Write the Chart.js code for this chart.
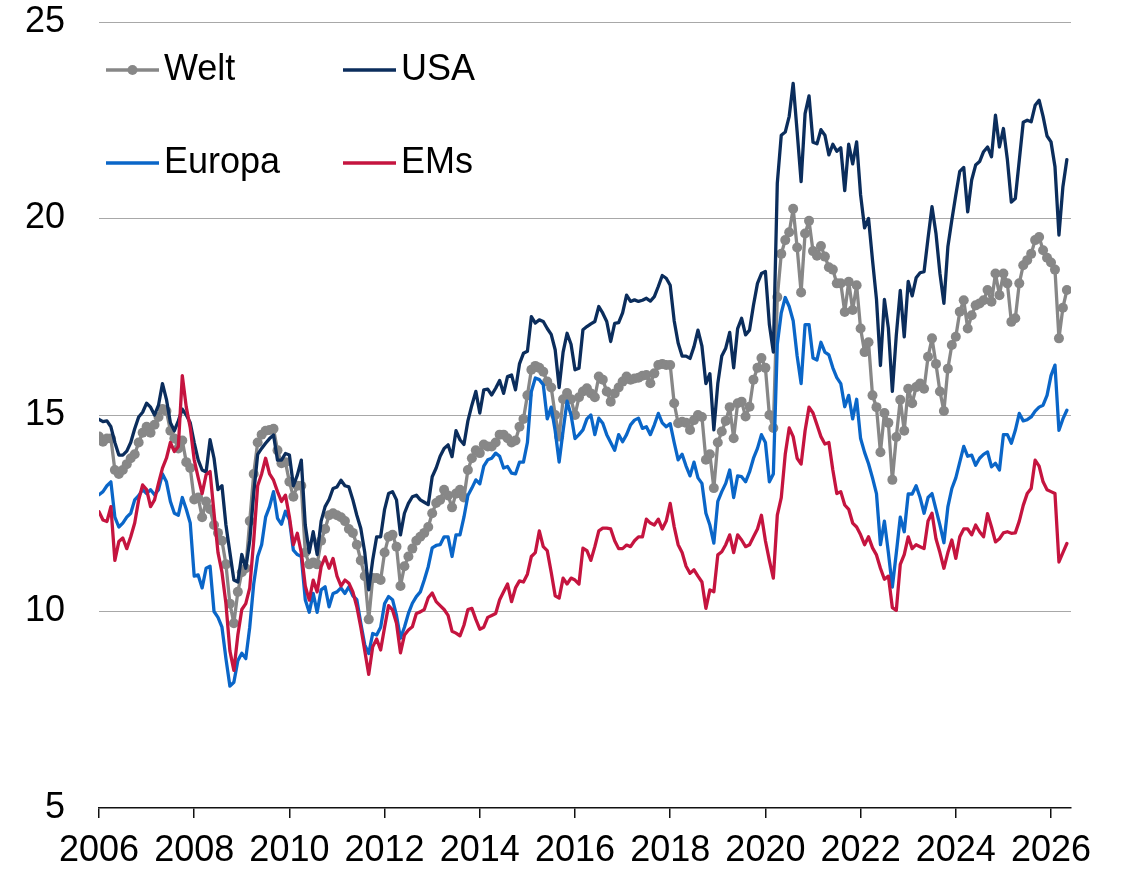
<!DOCTYPE html>
<html>
<head>
<meta charset="utf-8">
<script src="https://cdn.jsdelivr.net/npm/chart.js@4/dist/chart.umd.min.js"></script>
<style>
html,body{margin:0;padding:0;background:#fff;}
#wrap{width:1121px;height:869px;position:relative;}
</style>
</head>
<body>
<div id="wrap"><canvas id="c" width="1121" height="869"></canvas></div>
<script>
// ---- Data (monthly, starting January 2006) ----
const startYear = 2006;
const seriesNames = ['Welt', 'USA', 'Europa', 'EMs'];

const welt = [
  14.45,14.32,14.4,14.4,13.6,13.5,13.6,13.75,13.9,14.0,14.3,14.55,
  14.7,14.55,14.75,14.95,15.15,15.1,14.6,14.4,14.15,14.35,13.8,13.65,
  12.85,12.9,12.4,12.8,12.6,12.2,12.0,11.8,11.2,10.2,9.7,10.5,
  11.0,11.1,12.3,13.5,14.3,14.5,14.6,14.62,14.65,14.1,13.77,13.8,
  13.3,12.92,13.2,13.2,11.5,11.2,11.25,11.2,11.8,12.1,12.45,12.5,
  12.45,12.4,12.3,12.1,12.0,11.7,11.3,10.9,9.8,10.85,10.85,10.8,
  11.5,11.9,11.95,11.65,10.65,11.15,11.4,11.6,11.8,11.9,12.0,12.15,
  12.5,12.76,12.84,13.1,12.95,12.65,13.0,13.1,12.9,13.6,13.9,14.1,
  14.03,14.25,14.2,14.2,14.3,14.5,14.5,14.41,14.3,14.35,14.7,14.9,
  15.5,16.15,16.25,16.2,16.1,15.85,15.7,15.0,14.45,15.4,15.56,15.4,
  15.0,15.45,15.6,15.68,15.55,15.45,15.98,15.9,15.6,15.34,15.55,15.7,
  15.85,15.98,15.9,15.93,15.95,16.0,16.02,15.81,16.06,16.27,16.3,16.27,
  16.27,15.3,14.79,14.83,14.8,14.62,14.87,15.0,14.95,13.86,14.0,13.14,
  14.3,14.58,14.85,15.2,14.41,15.3,15.34,14.96,15.21,15.9,16.2,16.45,
  16.2,15.0,14.67,18.0,19.1,19.45,19.65,20.25,19.26,18.12,19.62,19.94,
  19.17,19.05,19.3,19.03,18.76,18.7,18.35,18.35,17.62,18.39,17.67,18.3,
  17.2,16.6,16.85,15.5,15.2,14.05,15.05,14.8,13.35,14.44,15.39,14.6,
  15.67,15.3,15.71,15.8,15.67,16.48,16.95,16.3,15.6,15.1,16.18,16.78,
  16.99,17.63,17.92,17.2,17.54,17.79,17.84,17.92,18.18,17.88,18.6,18.05,
  18.6,18.35,17.37,17.46,18.35,18.81,18.94,19.1,19.45,19.53,19.19,19.0,
  18.88,18.7,16.95,17.73,18.18
];

const usa = [
  14.89,14.83,14.85,14.7,14.3,13.98,13.98,14.08,14.3,14.65,14.95,15.07,
  15.3,15.2,15.0,15.25,15.8,15.4,14.8,14.6,14.85,15.15,15.0,14.8,
  14.3,13.86,13.6,13.55,14.37,13.9,13.1,13.2,12.2,11.5,10.8,10.75,
  11.45,11.1,11.8,13.0,14.0,14.15,14.28,14.4,14.49,13.85,13.85,14.02,
  13.98,13.2,13.47,13.85,12.2,11.5,12.03,11.45,12.3,12.67,12.85,13.13,
  13.17,13.34,13.2,13.17,12.84,12.45,12.11,11.5,10.55,11.31,11.9,11.9,
  12.6,13.0,13.05,12.84,11.95,12.5,12.75,12.92,12.96,12.84,12.78,12.72,
  13.43,13.65,13.95,14.15,14.24,13.94,14.6,14.37,14.25,14.85,15.25,15.6,
  15.05,15.64,15.66,15.51,15.68,15.88,15.55,15.98,16.02,15.64,16.3,16.57,
  16.62,17.5,17.34,17.42,17.38,17.2,17.05,16.66,15.7,16.6,17.08,16.8,
  16.15,16.19,17.17,17.25,17.32,17.38,17.76,17.59,17.38,16.87,17.33,17.35,
  17.6,18.05,17.89,17.93,17.89,17.92,17.97,17.9,18.01,18.27,18.55,18.48,
  18.3,17.4,16.83,16.5,16.5,16.44,16.74,17.16,16.75,15.8,16.05,14.62,
  15.8,16.5,16.7,17.1,16.2,17.2,17.46,17.04,17.16,17.8,18.35,18.6,
  18.65,17.3,16.6,20.9,22.12,22.2,22.6,23.44,22.21,20.94,22.67,23.12,
  21.94,21.9,22.26,22.12,21.62,21.89,21.71,21.8,20.71,21.89,21.39,21.95,
  20.6,19.76,20.0,18.94,17.95,16.26,17.94,17.21,15.6,17.03,18.17,16.99,
  18.4,18.03,18.49,18.62,18.65,19.5,20.3,19.62,18.6,17.84,19.28,19.96,
  20.6,21.2,21.3,20.17,20.98,21.36,21.45,21.7,21.82,21.57,22.63,21.82,
  22.29,21.5,20.42,20.51,21.48,22.45,22.5,22.46,22.88,23.01,22.6,22.1,
  21.95,21.32,19.58,20.81,21.5
];

const europa = [
  12.97,13.05,13.2,13.3,12.4,12.15,12.25,12.4,12.5,12.84,12.95,13.1,
  13.0,13.1,12.97,13.1,13.5,13.3,12.8,12.5,12.45,12.9,12.6,12.25,
  10.9,10.93,10.6,11.1,11.15,10.0,9.85,9.6,8.8,8.1,8.2,8.75,
  8.94,8.8,9.6,10.7,11.4,11.7,12.4,12.67,13.05,12.37,12.22,12.55,
  12.33,11.56,11.45,11.4,10.3,9.98,10.46,9.98,10.55,10.63,10.12,10.46,
  10.5,10.6,10.46,10.63,10.4,10.3,9.7,9.15,8.93,9.44,9.4,9.6,
  10.2,10.38,10.3,9.9,9.32,9.6,9.95,10.21,10.38,10.5,10.8,11.14,
  11.62,11.68,11.7,11.9,11.9,11.4,11.95,11.95,12.4,12.95,13.14,13.35,
  13.25,13.7,13.86,13.9,14.03,13.95,13.65,13.69,13.52,13.5,13.8,13.8,
  14.3,15.6,15.94,15.9,15.77,14.9,15.2,14.6,13.8,14.6,15.35,15.0,
  14.4,14.5,14.62,14.9,15.0,14.5,14.92,14.79,14.5,14.3,14.1,14.5,
  14.32,14.5,14.75,14.87,14.92,14.66,14.7,14.5,14.75,15.04,14.8,14.7,
  14.78,14.3,13.86,14.0,13.7,13.45,13.8,13.4,13.26,12.5,12.2,11.74,
  12.8,13.05,13.26,13.6,12.9,13.45,13.43,13.3,13.55,13.9,14.15,14.5,
  14.3,13.3,13.5,16.8,17.6,17.99,17.76,17.4,16.5,15.8,17.3,17.3,
  16.45,16.4,16.85,16.6,16.53,16.2,15.95,15.8,15.21,15.5,14.9,15.4,
  14.4,14.05,13.76,13.4,13.0,11.7,12.3,11.5,10.62,11.49,12.4,12.03,
  12.99,12.99,13.2,12.9,12.5,12.9,13.0,12.6,12.2,11.75,12.66,13.13,
  13.4,13.8,14.2,13.95,13.98,13.72,13.9,14.0,14.06,13.68,13.77,13.6,
  14.5,14.5,14.28,14.61,15.04,14.85,14.88,14.95,15.1,15.2,15.25,15.5,
  16.0,16.27,14.61,14.9,15.12
];

const ems = [
  12.54,12.33,12.29,12.67,11.3,11.78,11.87,11.6,11.9,12.25,12.84,13.22,
  13.1,12.67,12.84,13.26,13.65,13.9,14.3,14.07,14.2,16.0,15.2,14.68,
  13.86,13.41,13.0,13.48,13.56,12.5,11.5,11.0,10.2,9.0,8.5,9.4,
  10.05,10.2,10.6,11.8,13.2,13.5,13.9,13.5,13.34,13.05,12.8,12.96,
  12.41,11.7,11.99,11.5,10.65,10.29,10.8,10.5,11.14,11.39,11.1,11.35,
  10.9,10.65,10.8,10.72,10.5,10.12,9.6,9.0,8.4,9.1,9.3,9.02,
  9.6,10.15,10.04,9.7,8.95,9.4,9.53,9.61,9.95,9.99,10.05,10.35,
  10.47,10.25,10.15,10.05,9.9,9.5,9.45,9.38,9.65,10.05,10.08,9.8,
  9.55,9.6,9.85,9.9,9.95,10.3,10.5,10.7,10.25,10.6,10.78,10.75,
  10.95,11.4,11.5,12.05,11.65,11.55,11.0,10.4,10.34,10.85,10.7,10.85,
  10.8,10.7,11.61,11.55,11.3,11.65,12.05,12.12,12.12,12.1,11.8,11.6,
  11.6,11.69,11.65,11.8,11.9,11.9,12.35,12.25,12.2,12.35,12.1,12.3,
  12.75,12.16,11.7,11.5,11.15,10.97,11.06,10.9,10.75,10.08,10.55,10.5,
  11.44,11.52,11.7,11.95,11.5,11.95,11.82,11.65,11.7,11.9,12.1,12.45,
  11.8,11.3,10.85,12.45,12.9,14.0,14.67,14.45,13.9,13.75,14.6,15.2,
  15.05,14.75,14.45,14.26,14.3,13.6,13.0,13.05,12.71,12.6,12.25,12.15,
  11.95,11.7,11.9,11.62,11.44,11.1,10.82,10.9,10.1,10.03,11.2,11.45,
  11.9,11.6,11.7,11.65,11.6,12.3,12.5,11.85,11.5,11.1,11.5,11.82,
  11.35,11.9,12.1,12.1,11.95,12.2,12.03,11.9,12.49,12.15,11.77,11.85,
  12.0,12.03,11.99,12.0,12.3,12.7,13.0,13.13,13.85,13.7,13.3,13.1,
  13.05,13.0,11.26,11.5,11.73
];

const yTickValues = [5, 10, 15, 20, 25];
const xTickYears = [2006, 2008, 2010, 2012, 2014, 2016, 2018, 2020, 2022, 2024, 2026];

// ---- Build chart ----
const FONT = "'Liberation Sans', Arial, sans-serif";
const colors = { Welt: '#878787', USA: '#0b2d5c', Europa: '#0a66c8', EMs: '#c5143f' };
const toPoints = arr => arr.map((v, i) => ({ x: startYear + i / 12, y: v }));
const seriesData = [welt, usa, europa, ems];

const datasets = seriesNames.map((name, k) => ({
  label: name,
  data: toPoints(seriesData[k]),
  borderColor: colors[name],
  backgroundColor: colors[name],
  borderWidth: 3.3,
  borderJoinStyle: 'round',
  borderCapStyle: 'round',
  tension: 0,
  fill: false,
  pointRadius: name === 'Welt' ? 5 : 0,
  pointBackgroundColor: colors[name],
  pointBorderWidth: 0,
  pointHoverRadius: 0,
  order: 3 - k
}));

const legendSlots = [
  { x: 106, y: 70 }, { x: 343, y: 70 },
  { x: 106, y: 163 }, { x: 343, y: 163 }
];

const inlineLegend = {
  id: 'inlineLegend',
  afterDraw(chart) {
    const ctx = chart.ctx;
    ctx.save();
    ctx.font = '36px ' + FONT;
    ctx.textBaseline = 'middle';
    ctx.textAlign = 'left';
    chart.data.datasets.forEach((ds, k) => {
      const p = legendSlots[k];
      ctx.strokeStyle = ds.borderColor;
      ctx.lineWidth = 3.3;
      ctx.lineCap = 'butt';
      ctx.beginPath();
      ctx.moveTo(p.x, p.y);
      ctx.lineTo(p.x + 53, p.y);
      ctx.stroke();
      if (ds.pointRadius > 0) {
        ctx.fillStyle = ds.pointBackgroundColor;
        ctx.beginPath();
        ctx.arc(p.x + 26.5, p.y, 5, 0, Math.PI * 2);
        ctx.fill();
      }
      ctx.fillStyle = '#000';
      ctx.fillText(ds.label, p.x + 58, p.y);
    });
    ctx.restore();
  }
};

new Chart(document.getElementById('c'), {
  type: 'line',
  data: { datasets },
  options: {
    responsive: false,
    animation: false,
    devicePixelRatio: 1,
    layout: { padding: { left: 0, right: 50, top: 22, bottom: 0 } },
    plugins: { legend: { display: false }, tooltip: { enabled: false } },
    events: [],
    scales: {
      x: {
        type: 'linear',
        min: 2006,
        max: 2026.42,
        afterBuildTicks: s => { s.ticks = xTickYears.map(v => ({ value: v })); },
        afterFit: s => { s.height = 61; },
        ticks: {
          autoSkip: false,
          maxRotation: 0,
          minRotation: 0,
          padding: 11,
          color: '#000',
          font: { family: FONT, size: 36 },
          callback: v => String(v)
        },
        grid: {
          display: true,
          drawOnChartArea: false,
          drawTicks: true,
          tickLength: 10,
          color: '#111',
          lineWidth: 1.5
        },
        border: { display: true, color: '#111', width: 1.5 }
      },
      y: {
        type: 'linear',
        min: 5,
        max: 25,
        afterBuildTicks: s => { s.ticks = yTickValues.map(v => ({ value: v })); },
        afterFit: s => { s.width = 99; s.paddingTop = 0; s.paddingBottom = 0; },
        ticks: {
          padding: 34,
          color: '#000',
          font: { family: FONT, size: 36 },
          callback: v => String(v)
        },
        grid: {
          drawTicks: false,
          color: ctx => (ctx.tick && ctx.tick.value === 5) ? 'rgba(0,0,0,0)' : '#a8a8a8',
          lineWidth: 1
        },
        border: { display: false }
      }
    }
  },
  plugins: [inlineLegend]
});
</script>
</body>
</html>
